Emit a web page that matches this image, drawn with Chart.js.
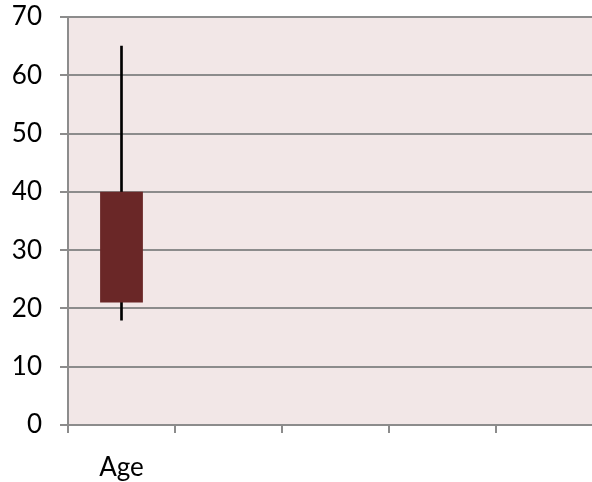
<!DOCTYPE html>
<html><head><meta charset="utf-8">
<script src="https://cdn.jsdelivr.net/npm/chart.js@4"></script>
<style>
html,body{margin:0;padding:0;overflow:hidden;background:#fff;width:592px;height:482px}
#wrap{position:relative;width:603px;height:482px}
</style></head>
<body><div id="wrap"><canvas id="c" width="603" height="482"></canvas></div>
<script>
const categories = ['Age', '', '', '', ''];
const boxValues = [[21, 40], null, null, null, null];
const whiskerValues = [[18, 65], null, null, null, null];
const yTicks = {min: 0, max: 70, step: 10};

const bgPlugin = {
  id: 'bg',
  beforeDraw(chart) {
    const {ctx, chartArea: a} = chart;
    ctx.save();
    ctx.fillStyle = '#F2E7E7';
    ctx.fillRect(a.left, a.top, a.right - a.left, a.bottom - a.top);
    ctx.restore();
  }
};

new Chart(document.getElementById('c'), {
  type: 'bar',
  data: {
    labels: categories,
    datasets: [
      {label: 'Box', data: boxValues, backgroundColor: '#6A2727', borderWidth: 0,
       grouped: false, categoryPercentage: 1, barPercentage: 0.4},
      {label: 'Whisker', data: whiskerValues, backgroundColor: '#000', borderWidth: 0,
       grouped: false, barThickness: 2}
    ]
  },
  options: {
    responsive: false,
    animation: false,
    layout: {padding: {top: 17, right: 0, left: 0, bottom: 0}},
    plugins: {legend: {display: false}, tooltip: {enabled: false}},
    scales: {
      x: {
        offset: true,
        grid: {display: true, drawOnChartArea: false, offset: true, color: '#8C8C8C', lineWidth: 2, tickLength: 8},
        border: {display: true, color: '#8C8C8C', width: 2},
        ticks: {color: '#000', font: {family: 'Lato', size: 26}, padding: 19},
        afterFit(s) { s.height = 57; s.paddingLeft = 0; s.paddingRight = 0; }
      },
      y: {
        min: yTicks.min, max: yTicks.max,
        grid: {color: '#8C8C8C', lineWidth: 2, tickLength: 8},
        border: {display: true, color: '#8C8C8C', width: 2},
        ticks: {stepSize: yTicks.step, color: '#000', font: {family: 'Lato', size: 26}, padding: 18},
        afterFit(s) { s.width = 68; s.paddingTop = 0; s.paddingBottom = 0; }
      }
    }
  },
  plugins: [bgPlugin]
});
</script></body></html>
